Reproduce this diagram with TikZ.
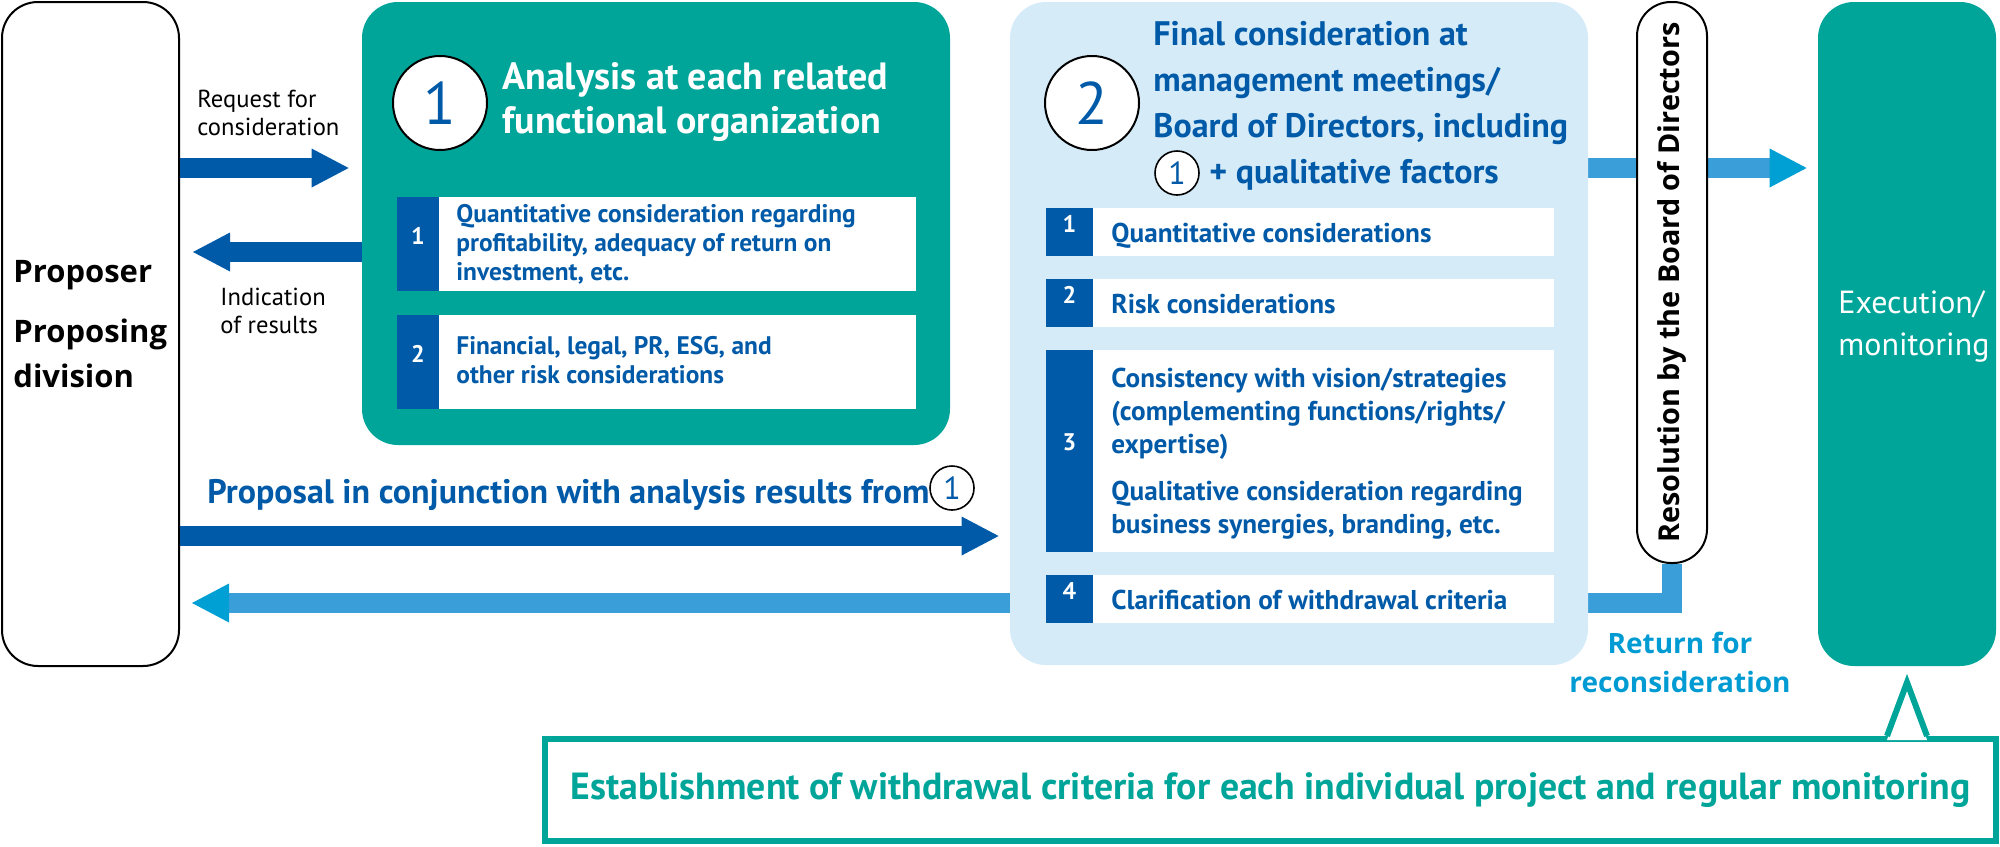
\documentclass[tikz,border=0pt]{standalone}
\usepackage{fontspec}
\setmainfont{PT Sans}
\newfontfamily\widesans{Open Sans}
\usetikzlibrary{calc,arrows.meta,fit,backgrounds}

\definecolor{teal1}{RGB}{0,165,153}
\definecolor{paleblue}{RGB}{213,235,248}
\definecolor{darkblue}{RGB}{0,90,168}
\definecolor{midblue}{RGB}{58,158,216}
\definecolor{cyanhead}{RGB}{0,160,212}
\definecolor{returnblue}{RGB}{0,155,210}

\begin{document}
\begin{tikzpicture}[x=0.5pt,y=-0.5pt,
  box/.style={inner sep=0pt,rounded corners=18pt},
  itemrow/.style={fill=white,inner sep=0pt},
  numstrip/.style={fill=darkblue,inner sep=0pt,text=white,font=\bfseries\fontsize{12}{12}\selectfont},
  itemtext/.style={anchor=base west,inner sep=0pt,align=left,text=darkblue,font=\bfseries\fontsize{12.7}{14.5}\selectfont},
  rowtext/.style={itemtext,font=\bfseries\fontsize{13.6}{16.5}\selectfont},
  bignum/.style={circle,draw,line width=1pt,fill=white,minimum size=47pt,inner sep=0pt,text=darkblue,font=\fontsize{30}{30}\selectfont},
  smallnum/.style={circle,draw,line width=0.8pt,fill=white,minimum size=22pt,inner sep=0pt,text=darkblue,font=\fontsize{16}{16}\selectfont},
  darkarrow/.style={line width=10pt,darkblue,-{Triangle[length=18.5pt,width=19.5pt,line width=0pt]}},
  lightarrow/.style={line width=10pt,midblue,line join=miter,-{Triangle[length=18.5pt,width=19.5pt,line width=0pt,color=cyanhead]}}]
  \useasboundingbox (0,0) rectangle (2000,846);

  % proposer
  \node[box,draw,line width=1pt,fit={(2,2) (179,666)}] (prop) {};
  \node[anchor=base west,align=left,inner sep=0pt,font=\widesans\bfseries\fontsize{15.5}{22.5}\selectfont] (propt) at (13,387) {Proposer\\[7.5pt]Proposing\\division};
  \node[anchor=base west,align=left,inner sep=0pt,font=\fontsize{12.3}{14}\selectfont] (reqt) at (197,135) {Request for\\consideration};
  \node[anchor=base west,align=left,inner sep=0pt,font=\fontsize{12.3}{14}\selectfont] (indt) at (220,333) {Indication\\of results};

  % step 1
  \node[box,fill=teal1,fit={(362,2) (950,445)}] (ana) {};
  \node[bignum] (c1) at (440,103) {1};
  \node[anchor=base west,align=left,inner sep=0pt,text=white,font=\bfseries\fontsize{19}{22}\selectfont] (anat) at (502,133) {Analysis at each related\\functional organization};
  \node[itemrow,fit={(397,197) (916,291)}] (a1) {};
  \node[numstrip,fit={(397,197) (439,291)}] (a1n) {1};
  \node[itemtext] (a1t) at (456,280) {Quantitative consideration regarding\\profitability, adequacy of return on\\investment, etc.};
  \node[itemrow,fit={(397,315) (916,409)}] (a2) {};
  \node[numstrip,fit={(397,315) (439,409)}] (a2n) {2};
  \node[itemtext] (a2t) at (456,383) {Financial, legal, PR, ESG, and\\other risk considerations};

  % step 2
  \node[box,fill=paleblue,fit={(1010,2) (1588,665)}] (fin) {};
  \node[bignum] (c2) at (1092,103) {2};
  \node[anchor=base west,align=left,inner sep=0pt,text=darkblue,font=\bfseries\fontsize{17}{23}\selectfont] (fint) at (1153,137) {Final consideration at\\management meetings/\\Board of Directors, including};
  \node[smallnum] (c3) at (1177,173) {1};
  \node[anchor=base west,inner sep=0pt,text=darkblue,font=\bfseries\fontsize{17}{23}\selectfont] (fint2) at (1209,183) {+ qualitative factors};
  \node[itemrow,fit={(1046,208) (1554,256)}] (f1) {};
  \node[numstrip,fit={(1046,208) (1093,256)}] (f1n) {1};
  \node[rowtext] (f1t) at (1111,242) {Quantitative considerations};
  \node[itemrow,fit={(1046,279) (1554,327)}] (f2) {};
  \node[numstrip,fit={(1046,279) (1093,327)}] (f2n) {2};
  \node[rowtext] (f2t) at (1111,313) {Risk considerations};
  \node[itemrow,fit={(1046,350) (1554,552)}] (f3) {};
  \node[numstrip,fit={(1046,350) (1093,552)}] (f3n) {3};
  \node[rowtext] (f3t) at (1111,533) {Consistency with vision/strategies\\(complementing functions/rights/\\expertise)\\[7pt]Qualitative consideration regarding\\business synergies, branding, etc.};
  \node[itemrow,fit={(1046,575) (1554,623)}] (f4) {};
  \node[numstrip,fit={(1046,575) (1093,623)}] (f4n) {4};
  \node[rowtext] (f4t) at (1111,609) {Clarification of withdrawal criteria};

  % board and execution
  \node[draw,fill=white,line width=1pt,rounded corners=17pt,inner sep=0pt,fit={(1637,2) (1707,563)}] (res) {};
  \node[rotate=90,inner sep=0pt,font=\widesans\bfseries\fontsize{14.4}{14.4}\selectfont] (rest) at (res.center) {Resolution by the Board of Directors};
  \node[box,fill=teal1,fit={(1818,2) (1996,666)}] (exe) {};
  \node[anchor=base west,align=left,inner sep=0pt,text=white,font=\fontsize{16}{21}\selectfont] (exet) at (1838,355) {Execution/\\monitoring};
  \node[anchor=base,align=center,inner sep=0pt,text=returnblue,font=\widesans\bfseries\fontsize{14}{19.5}\selectfont] (rett) at (1680,692) {Return for\\reconsideration};

  % proposal
  \node[anchor=base west,inner sep=0pt,text=darkblue,font=\bfseries\fontsize{17}{17}\selectfont] (propo) at (207,503) {Proposal in conjunction with analysis results from};
  \node[smallnum] (c4) at (952,488) {1};

  % arrows
  \draw[darkarrow,shorten >=6.5pt] (prop.east |- 0,168) -- (ana.west |- 0,168);
  \draw[darkarrow,shorten >=6.5pt] (ana.west |- 0,252) -- (prop.east |- 0,252);
  \draw[darkarrow,shorten >=5.5pt] (prop.east |- 0,536) -- (fin.west |- 0,536);
  \begin{scope}[on background layer]
    \draw[lightarrow,shorten >=5.5pt] (fin.east |- 0,168) -- (exe.west |- 0,168);
    \draw[lightarrow,shorten >=6pt] (res.south) -- (res.south |- 0,603) -- (prop.east |- 0,603);
  \end{scope}

  % withdrawal criteria
  \node[draw=teal1,line width=3pt,fill=white,inner sep=0pt,fit={(545,739) (1996,841)}] (call) {};
  \node[text=teal1,font=\bfseries\fontsize{18.9}{18.9}\selectfont] (callt) at (call.center) {Establishment of withdrawal criteria for each individual project and regular monitoring};
  \coordinate (tip) at ([yshift=-8pt]exe.south);
  \fill[white] ($(call.north -| tip)+(-20,4)$) -- (tip) -- ($(call.north -| tip)+(20,4)$) -- cycle;
  \draw[teal1,line width=3pt,line join=miter] ($(call.north -| tip)+(-20,0)$) -- (tip) -- ($(call.north -| tip)+(20,0)$);
\end{tikzpicture}
\end{document}
